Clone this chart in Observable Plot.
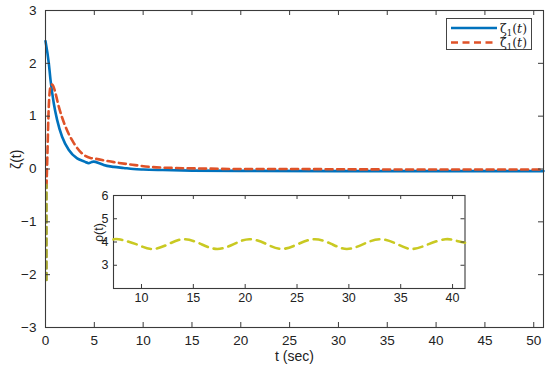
<!DOCTYPE html>
<html><head><meta charset="utf-8">
<script src="https://cdn.jsdelivr.net/npm/d3@7"></script>
<script src="https://cdn.jsdelivr.net/npm/@observablehq/plot@0.6"></script>
<style>
html,body{margin:0;padding:0;background:#fff;}
#wrap{position:relative;width:550px;height:370px;font-family:"Liberation Sans",Arial,sans-serif;}
#wrap svg{position:absolute;}
#legend{position:absolute;left:446px;top:18px;width:86px;height:32px;border:1px solid #444;background:#fff;box-sizing:border-box;}
</style>
</head><body>
<div id="wrap"></div>
<script>
// Main plot data: zeta_1(t)
const tZeta = [0, 0.34, 0.51, 0.85, 1.19, 1.7, 2.39, 3.24, 4.0, 4.43, 4.7, 4.94, 5.5, 5.96, 7, 8, 9, 10, 12, 15, 20, 30, 40, 51];
const vZeta = [2.42, 2.0, 1.69, 1.24, 0.93, 0.61, 0.36, 0.20, 0.14, 0.11, 0.13, 0.14, 0.11, 0.076, 0.04, 0.02, 0.0, -0.01, -0.02, -0.03, -0.035, -0.04, -0.04, -0.04];
// estimate zeta_hat_1(t)
const tHat = [0.1, 0.2, 0.3, 0.4, 0.55, 0.7, 1.0, 1.36, 2.05, 2.9, 3.9, 4.6, 4.94, 5.8, 7, 8.9, 10.7, 13, 15.8, 20, 24.4, 30, 40, 51];
const vHat = [-0.35, 0.3, 1.0, 1.4, 1.58, 1.6, 1.45, 1.18, 0.80, 0.49, 0.27, 0.21, 0.20, 0.17, 0.13, 0.08, 0.04, 0.02, 0.01, 0.0, 0.0, -0.005, -0.01, -0.01];
// olive segment at t≈0 in main axes
const tOlive = [0.12, 0.12];
const vOlive = [-2.1, -0.3];
// inset rho(t)
const tRho = [7.3, 7.8, 9.4, 11.0, 12.6, 14.1, 15.7, 17.3, 18.9, 20.4, 22.0, 23.5, 25.1, 26.7, 28.3, 29.8, 31.4, 33.0, 34.6, 36.1, 37.7, 39.3, 40.3, 41.2];
const vRho = [4.11, 4.12, 3.92, 3.70, 3.91, 4.12, 3.92, 3.70, 3.91, 4.12, 3.92, 3.70, 3.91, 4.12, 3.92, 3.70, 3.91, 4.12, 3.92, 3.70, 3.91, 4.12, 4.06, 3.97];
// ticks
const xTicksMain = [0, 5, 10, 15, 20, 25, 30, 35, 40, 45, 50];
const yTicksMain = [-3, -2, -1, 0, 1, 2, 3];
const xTicksInset = [10, 15, 20, 25, 30, 35, 40];
const yTicksInset = [3, 4, 5, 6];

const zeta = tZeta.map((t, i) => ({t, v: vZeta[i]}));
const hat = tHat.map((t, i) => ({t, v: vHat[i]}));
const olive = tOlive.map((t, i) => ({t, v: vOlive[i]}));
const rho = tRho.map((t, i) => ({t, v: vRho[i]}));

const fmt = d3.format("d");
const AX = "#3a3a3a";
function frameTicks(xt, yt, iw, ih, len) {
  return [
    Plot.tickX(xt, {x: d => d, insetTop: ih - len, stroke: AX}),
    Plot.tickX(xt, {x: d => d, insetBottom: ih - len, stroke: AX}),
    Plot.tickY(yt, {y: d => d, insetRight: iw - len, stroke: AX}),
    Plot.tickY(yt, {y: d => d, insetLeft: iw - len, stroke: AX})
  ];
}

const W = 550, H = 370, mL = 45, mR = 7, mT = 10, mB = 43;
const main = Plot.plot({
  width: W, height: H,
  marginLeft: mL, marginRight: mR, marginTop: mT, marginBottom: mB,
  style: {fontFamily: "Liberation Sans, Arial, sans-serif", fontSize: "13.5px", color: "#222", background: "transparent"},
  x: {domain: [0, 51], label: null},
  y: {domain: [-3, 3], label: null},
  marks: [
    Plot.axisX({ticks: xTicksMain, tickFormat: fmt, tickSize: 0, tickPadding: 8, label: null}),
    Plot.axisY({ticks: yTicksMain, tickFormat: fmt, tickSize: 0, tickPadding: 9, label: null}),
    Plot.line(zeta, {x: "t", y: "v", stroke: "#0072BD", strokeWidth: 2.6, curve: "monotone-x"}),
    Plot.line(hat, {x: "t", y: "v", stroke: "#DF5228", strokeWidth: 2.6, strokeDasharray: "7,4.5", curve: "monotone-x"}),
    Plot.line(olive, {x: "t", y: "v", stroke: "#A8A832", strokeWidth: 2.4, strokeDasharray: "7,4.5"}),
    Plot.frame({stroke: AX, strokeWidth: 1.1}),
    ...frameTicks(xTicksMain, yTicksMain, W - mL - mR, H - mT - mB, 5),
    Plot.text(["ζ(t)"], {frameAnchor: "left", dx: -29, rotate: -90, fontSize: 14, fill: "#222"}),
    Plot.text(["t (sec)"], {frameAnchor: "bottom", dy: 33, fontSize: 14, fill: "#222"})
  ]
});
main.style.left = "0px"; main.style.top = "0px";

const iW = 390, iH = 125, imL = 28, imR = 10.5, imT = 10, imB = 22;
const inset = Plot.plot({
  width: iW, height: iH,
  marginLeft: imL, marginRight: imR, marginTop: imT, marginBottom: imB,
  style: {fontFamily: "Liberation Sans, Arial, sans-serif", fontSize: "12.5px", color: "#222", background: "transparent"},
  x: {domain: [7.3, 41.2], label: null},
  y: {domain: [2, 6], label: null},
  marks: [
    Plot.frame({fill: "white", stroke: AX, strokeWidth: 1.1}),
    Plot.axisX({ticks: xTicksInset, tickFormat: fmt, tickSize: 0, tickPadding: 5, label: null}),
    Plot.axisY({ticks: yTicksInset, tickFormat: fmt, tickSize: 0, tickPadding: 5, label: null}),
    Plot.line(rho, {x: "t", y: "v", stroke: "#C9C922", strokeWidth: 2.6, strokeDasharray: "9,6", curve: "natural"}),
    ...frameTicks(xTicksInset, yTicksInset, iW - imL - imR, iH - imT - imB, 4),
    Plot.text(["ρ(t)"], {frameAnchor: "left", dx: -15, rotate: -90, fontSize: 12.5, fill: "#222"})
  ]
});
inset.style.left = "85px"; inset.style.top = "185px";

const wrap = document.getElementById("wrap");
wrap.appendChild(main);
wrap.appendChild(inset);

// legend
const leg = document.createElement("div");
leg.id = "legend";
leg.innerHTML = `<svg width="86" height="32" style="position:absolute;left:0;top:0;font-family:'DejaVu Serif','Liberation Serif',serif;font-size:12.5px;fill:#222">
  <line x1="4" x2="50" y1="9" y2="9" stroke="#0072BD" stroke-width="2.6"/>
  <line x1="4" x2="50" y1="23.5" y2="23.5" stroke="#DF5228" stroke-width="2.6" stroke-dasharray="7,4.5"/>
  <text x="53" y="13.5">ζ<tspan font-size="8.5" dy="3">1</tspan><tspan dy="-3">(</tspan><tspan font-style="italic">t</tspan>)</text>
  <text x="53" y="28">ζ̂<tspan font-size="8.5" dy="3">1</tspan><tspan dy="-3">(</tspan><tspan font-style="italic">t</tspan>)</text>
</svg>`;
wrap.appendChild(leg);
</script>
</body></html>
